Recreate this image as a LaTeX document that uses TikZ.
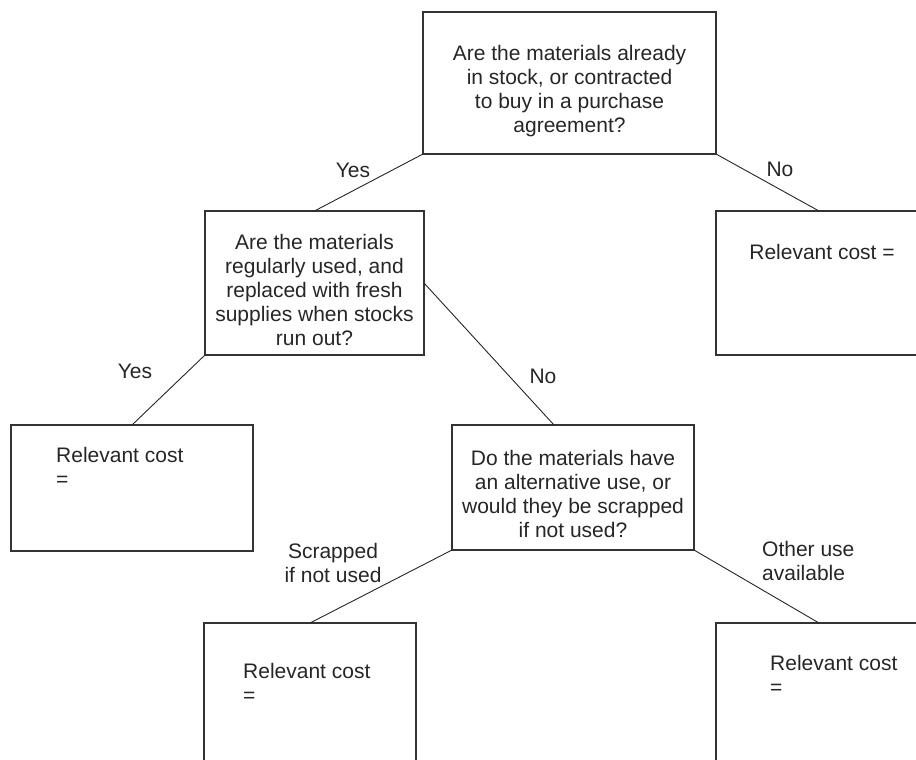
\documentclass[tikz,border=0pt]{standalone}
\usepackage{fontspec}
\setmainfont{Liberation Sans}
\begin{document}
\begin{tikzpicture}[x=1pt,y=-1pt,
  box/.style={draw=black!80, line width=1.4pt, rectangle, inner sep=0pt, outer sep=0pt},
  link/.style={draw=black!85, line width=0.9pt},
  txt/.style={font=\fontsize{21}{24}\selectfont, align=center, inner sep=0pt, text=black!85},
  ltxt/.style={txt, align=left, anchor=west},
]
\useasboundingbox (0,0) rectangle (916,760);
\clip (0,0) rectangle (916,760);
% boxes
\node[box, minimum width=293pt, minimum height=142pt] (q1) at (569.5,83) {};
\node[box, minimum width=219pt, minimum height=144pt] (q2) at (314.5,283) {};
\node[box, minimum width=206pt, minimum height=144pt] (r1) at (819,283) {};
\node[box, minimum width=242pt, minimum height=126pt] (r2) at (132,488) {};
\node[box, minimum width=242pt, minimum height=125pt] (q3) at (573,487.5) {};
\node[box, minimum width=212pt, minimum height=157pt] (r3) at (310,701.5) {};
\node[box, minimum width=206pt, minimum height=157pt] (r4) at (819,701.5) {};
% texts
\node[txt] (t1) at (569.5,91) {Are the materials already\\in stock, or contracted\\to buy in a purchase\\agreement?};
\node[txt] (t2) at (314.5,289.5) {Are the materials\\regularly used, and\\replaced with fresh\\supplies when stocks\\run out?};
\node[txt] (t3) at (822,252) {Relevant cost =};
\node[ltxt] (t4) at (56,467) {Relevant cost\\=};
\node[txt] (t5) at (573,493.5) {Do the materials have\\an alternative use, or\\would they be scrapped\\if not used?};
\node[ltxt] (t6) at (243,682.5) {Relevant cost\\=};
\node[ltxt] (t7) at (770,674.5) {Relevant cost\\=};
% connectors
\draw[link] (q1.south west) -- (q2.north);
\draw[link] (q1.south east) -- (r1.north);
\draw[link] (q2.south west) -- (r2.north);
\draw[link] (q2.east) -- ([xshift=-19pt]q3.north);
\draw[link] (q3.south west) -- (r3.north);
\draw[link] (q3.south east) -- (r4.north);
% labels
\node[txt] (l1) at (353,170) {Yes};
\node[txt] (l2) at (780,169) {No};
\node[txt] (l3) at (135,371) {Yes};
\node[txt] (l4) at (543,376) {No};
\node[txt] (l5) at (333,563) {Scrapped\\if not used};
\node[ltxt] (l6) at (762,561) {Other use\\available};
\end{tikzpicture}
\end{document}
